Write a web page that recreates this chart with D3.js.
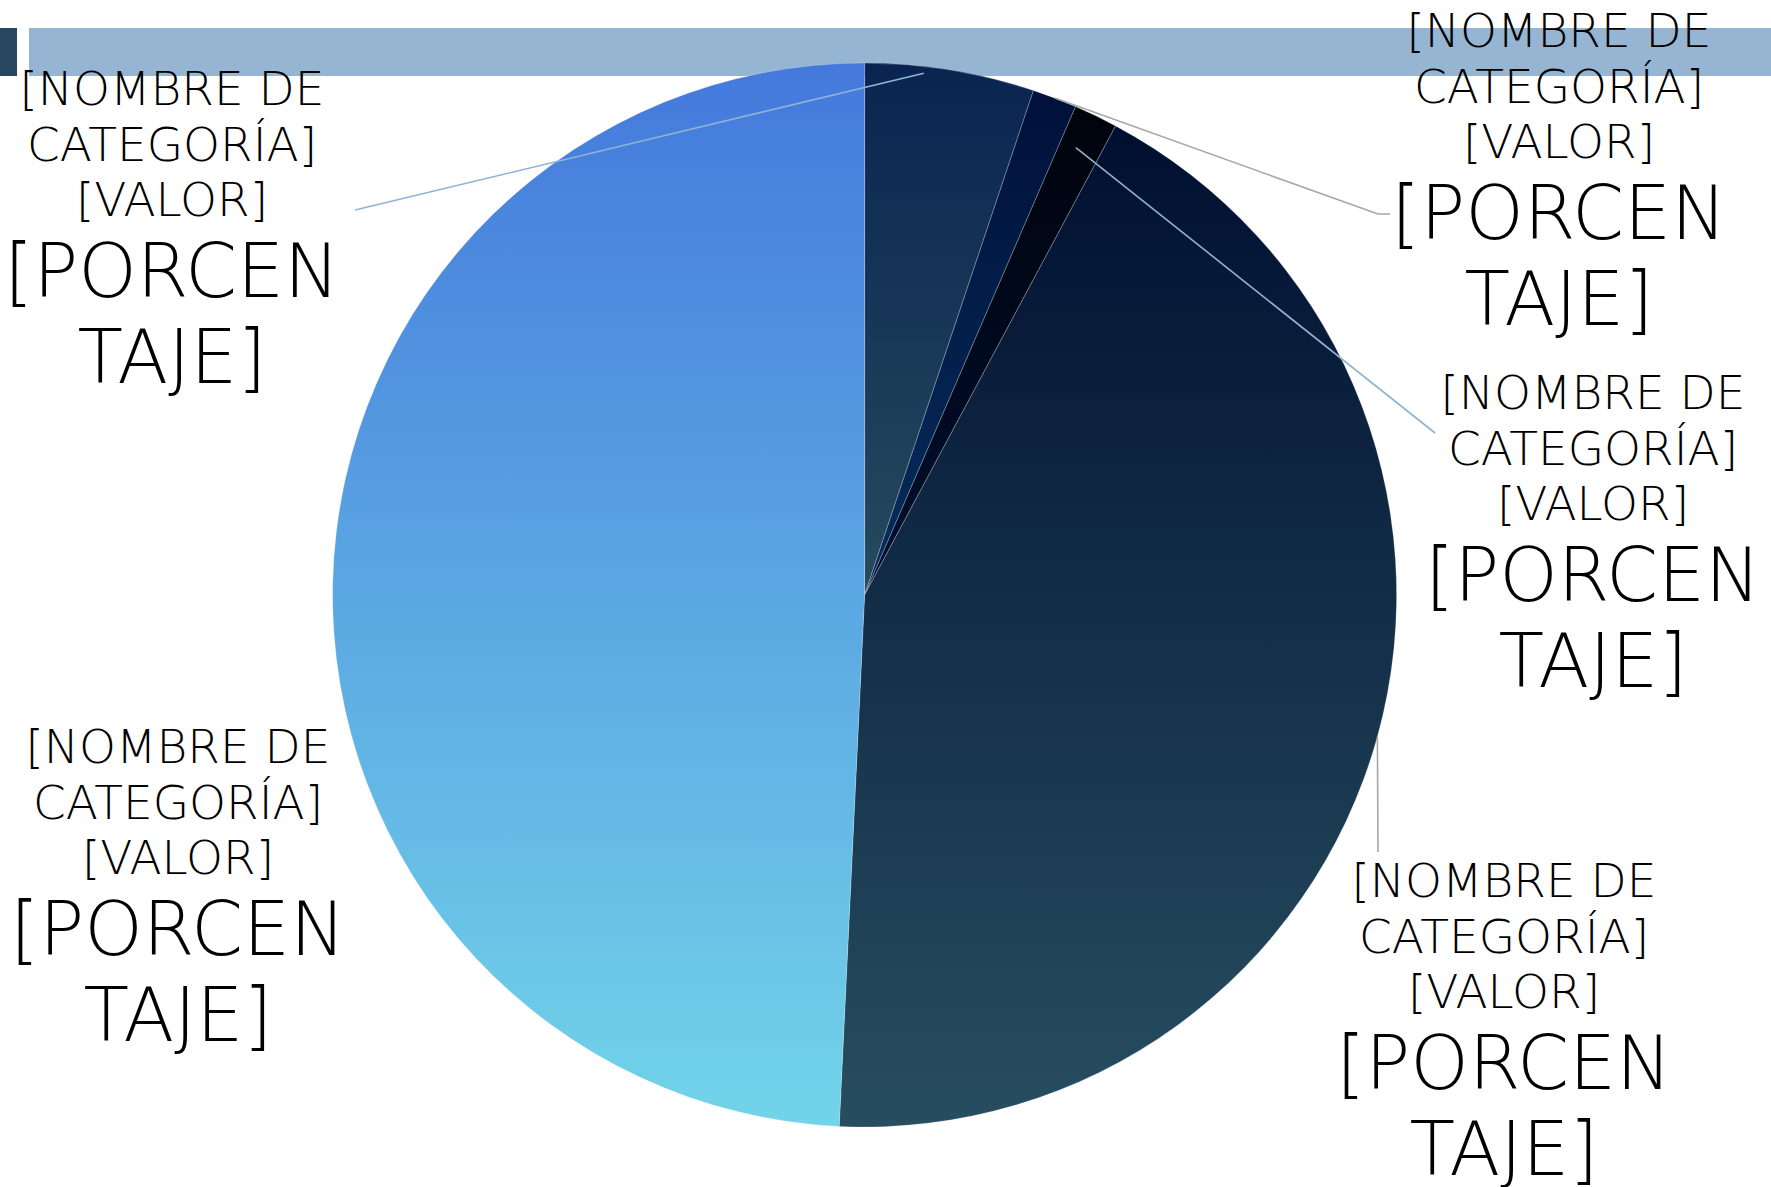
<!DOCTYPE html>
<html>
<head>
<meta charset="utf-8">
<script src="https://cdn.jsdelivr.net/npm/d3@7"></script>
<style>
  html, body { margin: 0; padding: 0; background: #ffffff; }
  svg { display: block; }
  text { font-family: "DejaVu Sans", sans-serif; font-weight: 200; fill: #000000; }
</style>
</head>
<body>
<svg id="chart" width="1771" height="1187"></svg>
<script>
// ---- data ----
const categories = ["[NOMBRE DE CATEGORÍA] 1", "[NOMBRE DE CATEGORÍA] 2", "[NOMBRE DE CATEGORÍA] 3", "[NOMBRE DE CATEGORÍA] 4", "[NOMBRE DE CATEGORÍA] 5"];
const values = [5.14, 1.35, 1.33, 42.94, 49.24];
const labelLinesSmall = ["[NOMBRE DE", "CATEGORÍA]", "[VALOR]"];
const labelLinesBig = ["[PORCEN", "TAJE]"];

// ---- styles ----
const gradTop = ["#0a2451", "#00113a", "#00030c", "#000f30", "#4479dc"];
const gradBottom = ["#264b5e", "#062d5e", "#001030", "#274e60", "#72d4e9"];

// label layout: center x, baseline of first line
const labelPos = [
  {x: 172, y: 105},
  {x: 1559, y: 47},
  {x: 1593, y: 409},
  {x: 1504, y: 897},
  {x: 178, y: 763}
];
// leader lines
const leaders = [
  {color: "#8fb3d4", frac: 0.35, rf: 0.987, pts: [[355, 210]]},
  {color: "#a6a6a6", frac: 0.5, rf: 1.0, pts: [[1378, 214], [1390, 214]]},
  {color: "#8fb3d4", frac: 0.4, rf: 0.93, pts: [[1435, 433]]},
  {color: "#a6a6a6", frac: 0.5, rf: 1.0, pts: [[1378, 852]]},
  null
];

const W = 1771, H = 1187;
const cx = 864.6, cy = 595, R = 532;

const svg = d3.select("#chart");
const defs = svg.append("defs");

// header bars
svg.append("rect").attr("x", 0).attr("y", 28).attr("width", 17).attr("height", 48).attr("fill", "#27465f");
svg.append("rect").attr("x", 29).attr("y", 28).attr("width", W - 29).attr("height", 48).attr("fill", "#95b5d3");

values.forEach((v, i) => {
  const g = defs.append("linearGradient").attr("id", "g" + i)
    .attr("x1", 0).attr("y1", 0).attr("x2", 0).attr("y2", 1);
  g.append("stop").attr("offset", "0%").attr("stop-color", gradTop[i]);
  g.append("stop").attr("offset", "100%").attr("stop-color", gradBottom[i]);
});

const pie = d3.pie().sort(null).value(d => d)(values);
const arc = d3.arc().innerRadius(0).outerRadius(R);

const pg = svg.append("g").attr("transform", `translate(${cx},${cy})`);
pg.selectAll("path").data(pie).join("path")
  .attr("d", arc)
  .attr("fill", (d, i) => `url(#g${i})`)
  .attr("stroke", "rgba(255,255,255,0.28)")
  .attr("stroke-width", 0.8);

// leader lines
pie.forEach((d, i) => {
  const L = leaders[i];
  if (!L) return;
  const a = d.startAngle + (d.endAngle - d.startAngle) * L.frac;
  const sx = cx + Math.sin(a) * R * L.rf;
  const sy = cy - Math.cos(a) * R * L.rf;
  const pts = [[sx, sy]].concat(L.pts);
  svg.append("path")
    .attr("d", d3.line()(pts))
    .attr("fill", "none")
    .attr("stroke", L.color)
    .attr("stroke-width", 1.6);
});

// labels
const smallSize = 47, bigSize = 74.5;
const smallStep = 55.5, gapToBig = 81, bigStep = 85.5;
pie.forEach((d, i) => {
  const p = labelPos[i];
  const t = svg.append("text").attr("text-anchor", "middle");
  let y = p.y;
  labelLinesSmall.forEach((s, k) => {
    t.append("tspan").attr("x", p.x).attr("y", y).attr("font-size", smallSize).text(s);
    if (k < labelLinesSmall.length - 1) y += smallStep;
  });
  y += gapToBig;
  labelLinesBig.forEach((s, k) => {
    t.append("tspan").attr("x", p.x).attr("y", y).attr("font-size", bigSize).text(s);
    y += bigStep;
  });
});
</script>
</body>
</html>
